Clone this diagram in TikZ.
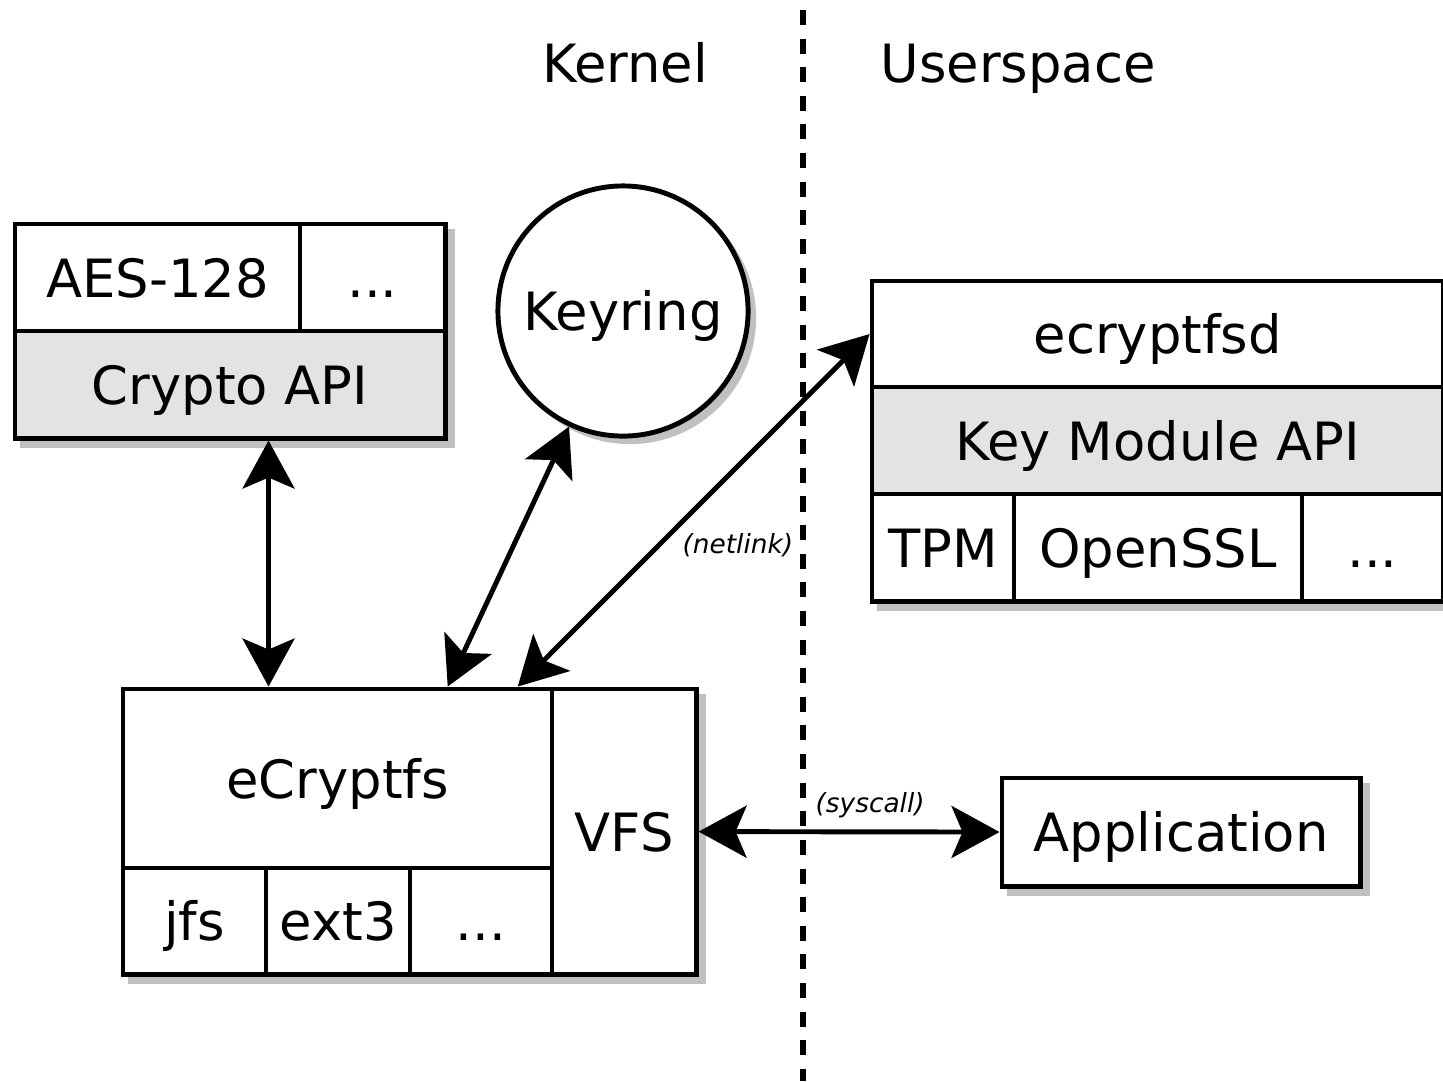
\documentclass[tikz,border=0pt]{standalone}
\usepackage{fontspec}
\setmainfont{DejaVu Sans}
\usetikzlibrary{arrows.meta}
\usetikzlibrary{backgrounds}
\definecolor{apigray}{RGB}{227,227,227}
\definecolor{shadowgray}{RGB}{192,192,192}

\begin{document}
\begin{tikzpicture}[x=0.01cm,y=-0.01cm,
    >={Stealth[length=0.48cm,width=0.52cm,inset=0.11cm]},
    cell/.style={draw,line width=1.4pt,fill=white,inner sep=0pt,
        text height=11.1pt,text depth=0pt,font=\fontsize{15}{18}\selectfont},
    box/.style={cell,anchor=north west,xshift=-0.7pt,yshift=0.7pt},
    api/.style={box,fill=apigray},
    heading/.style={text height=11.1pt,text depth=0pt,font=\fontsize{15}{18}\selectfont},
    link/.style={<->,line width=1.4pt},
    linklabel/.style={font=\fontsize{7.5}{9}\selectfont\itshape},
    boxshadow/.style={fill=shadowgray},
    divider/.style={line width=1.8pt,dash pattern=on 0.15cm off 0.136cm,dash phase=-0.1cm}]
    \useasboundingbox (0,0) rectangle (1443,1081);

    % kernel / userspace split
    \coordinate (divtop) at (803,0);
    \coordinate (divbot) at (803,1081);
    \draw[divider] (divtop) -- (divbot);
    \node[heading] (kernel) at (625,63) {Kernel};
    \node[heading] (user) at (1018,63) {Userspace};

    % crypto api
    \node[box,minimum width=2.85cm,minimum height=1.07cm] (aes) at (15,224) {AES-128};
    \node[box,minimum width=1.45cm,minimum height=1.07cm] (cdots) at (300,224) {...};
    \node[api,minimum width=4.30cm,minimum height=1.07cm] (capi) at (15,331) {Crypto API};

    % keyring
    \node[cell,circle,minimum size=2.5cm] (keyring) at (623,311) {Keyring};

    % ecryptfsd with its key modules
    \node[box,minimum width=5.71cm,minimum height=1.06cm] (ecryptfsd) at (872,281) {ecryptfsd};
    \node[api,minimum width=5.71cm,minimum height=1.07cm] (kmapi) at (872,387) {Key Module API};
    \node[box,minimum width=1.42cm,minimum height=1.07cm] (tpm) at (872,494) {TPM};
    \node[box,minimum width=2.88cm,minimum height=1.07cm] (openssl) at (1014,494) {OpenSSL};
    \node[box,minimum width=1.41cm,minimum height=1.07cm] (kdots) at (1302,494) {...};

    % ecryptfs on top of the lower filesystems
    \node[box,minimum width=4.29cm,minimum height=1.79cm] (ecfs) at (123,689) {eCryptfs};
    \node[box,minimum width=1.43cm,minimum height=1.06cm] (jfs) at (123,868) {jfs};
    \node[box,minimum width=1.44cm,minimum height=1.06cm] (ext3) at (266,868) {ext3};
    \node[box,minimum width=1.42cm,minimum height=1.06cm] (fdots) at (410,868) {...};
    \node[box,minimum width=1.44cm,minimum height=2.85cm] (vfs) at (552,689) {VFS};

    \node[box,minimum width=3.58cm,minimum height=1.08cm] (app) at (1002,778) {Application};

    % shadows
    \begin{scope}[on background layer]
        \fill[boxshadow] ([shift={(0.07cm,-0.07cm)}]aes.north west) rectangle ([shift={(0.07cm,-0.07cm)}]capi.south east);
        \fill[boxshadow] ([shift={(0.07cm,-0.07cm)}]keyring.center) circle (1.26cm);
        \fill[boxshadow] ([shift={(0.07cm,-0.07cm)}]ecryptfsd.north west) rectangle ([shift={(0.07cm,-0.07cm)}]kdots.south east);
        \fill[boxshadow] ([shift={(0.07cm,-0.07cm)}]ecfs.north west) rectangle ([shift={(0.07cm,-0.07cm)}]vfs.south east);
        \fill[boxshadow] ([shift={(0.07cm,-0.07cm)}]app.north west) rectangle ([shift={(0.07cm,-0.07cm)}]app.south east);
    \end{scope}

    % links
    \draw[link] (capi.south -| jfs.east) -- (ecfs.north -| jfs.east);
    \draw[link] (keyring) -- ([xshift=1.1cm]ecfs.north);
    \draw[link] (ecryptfsd.west) -- node[linklabel,pos=0.6,right=0.1cm] (netlink) {(netlink)} ([xshift=1.8cm]ecfs.north);
    \draw[link] (vfs.east) -- node[linklabel,pos=0.57,above] (syscall) {(syscall)} (app.west);
\end{tikzpicture}
\end{document}
